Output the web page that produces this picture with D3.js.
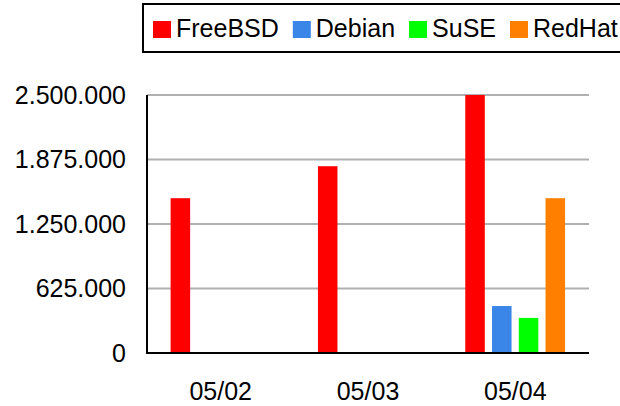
<!DOCTYPE html>
<html>
<head>
<meta charset="utf-8">
<script src="https://cdn.jsdelivr.net/npm/d3@7"></script>
<style>
body { margin: 0; background: #fff; }
text { font-family: "Liberation Sans", Arial, sans-serif; }
</style>
</head>
<body>
<svg></svg>
<script>
var w = 620, h = 406

// data
var dates = ["05/02", "05/03", "05/04"]
var series = ["FreeBSD", "Debian", "SuSE", "RedHat"]
var colors = ["#ff0000", "#3a86e8", "#00ff00", "#ff8000"]
var freebsd = [1500000, 1810000, 2500000]
var debian = [0, 0, 455000]
var suse = [0, 0, 340000]
var redhat = [0, 0, 1500000]
var yticks = [0, 625000, 1250000, 1875000, 2500000]

var values = [freebsd, debian, suse, redhat]

var svg = d3.select("svg")
    .attr("width", w)
    .attr("height", h)

var pLeft = 147, pRight = 589, pTop = 95, pBottom = 353

var locale = d3.formatLocale({decimal: ",", thousands: ".", grouping: [3], currency: ["", ""]})
var fmt = locale.format(",d")

var x = d3.scaleBand()
    .domain(dates)
    .range([pLeft, pRight])
    .padding(0)

var xs = d3.scaleBand()
    .domain(series)
    .range([20, 127])
    .paddingInner(0.27)
    .paddingOuter(0.135)

var y = d3.scaleLinear()
    .domain([0, 2500000])
    .range([pBottom, pTop])

// grid lines
svg.append("g")
    .selectAll("line")
    .data(yticks.slice(1))
    .enter().append("line")
        .attr("x1", pLeft)
        .attr("x2", pRight)
        .attr("y1", d => y(d))
        .attr("y2", d => y(d))
        .attr("stroke", "#b0b0b0")
        .attr("stroke-width", 2)

// bars
var groups = svg.append("g")
    .selectAll("g")
    .data(dates)
    .enter().append("g")
        .attr("transform", d => "translate(" + x(d) + ",0)")

groups.selectAll("rect")
    .data((d, i) => series.map((s, j) => ({s: s, c: colors[j], v: values[j][i]})))
    .enter().append("rect")
        .attr("x", d => xs(d.s))
        .attr("width", xs.bandwidth())
        .attr("y", d => y(d.v))
        .attr("height", d => pBottom - y(d.v))
        .attr("fill", d => d.c)

// y axis
var yAxis = svg.append("g")
    .attr("transform", "translate(" + pLeft + ",0)")
    .call(d3.axisLeft(y).tickValues(yticks).tickFormat(fmt).tickSize(0).tickPadding(21))
yAxis.select(".domain").remove()
yAxis.selectAll("text")
    .attr("font-size", 25)
    .attr("font-family", "Liberation Sans, Arial, sans-serif")
    .attr("fill", "#000")

svg.append("line")
    .attr("x1", pLeft)
    .attr("x2", pLeft)
    .attr("y1", pTop)
    .attr("y2", pBottom + 1)
    .attr("stroke", "#000")
    .attr("stroke-width", 2)

// x axis
var xAxis = svg.append("g")
    .attr("transform", "translate(0," + pBottom + ")")
    .call(d3.axisBottom(x).tickSize(0).tickPadding(29))
xAxis.select(".domain").remove()
xAxis.selectAll("text")
    .attr("font-size", 25)
    .attr("font-family", "Liberation Sans, Arial, sans-serif")
    .attr("fill", "#000")

svg.append("line")
    .attr("x1", pLeft - 1)
    .attr("x2", pRight)
    .attr("y1", pBottom)
    .attr("y2", pBottom)
    .attr("stroke", "#000")
    .attr("stroke-width", 2)

// legend
var legend = svg.append("g")
legend.append("rect")
    .attr("x", 143)
    .attr("y", 4)
    .attr("width", 520)
    .attr("height", 48)
    .attr("fill", "#fff")
    .attr("stroke", "#000")
    .attr("stroke-width", 2)

var lx = 153
series.forEach(function(s, i) {
    legend.append("rect")
        .attr("x", lx)
        .attr("y", 21)
        .attr("width", 18)
        .attr("height", 17)
        .attr("fill", colors[i])
    var t = legend.append("text")
        .attr("x", lx + 23)
        .attr("y", 37)
        .attr("font-size", 25)
        .text(s)
    lx = lx + 23 + t.node().getComputedTextLength() + 14
})
</script>
</body>
</html>
